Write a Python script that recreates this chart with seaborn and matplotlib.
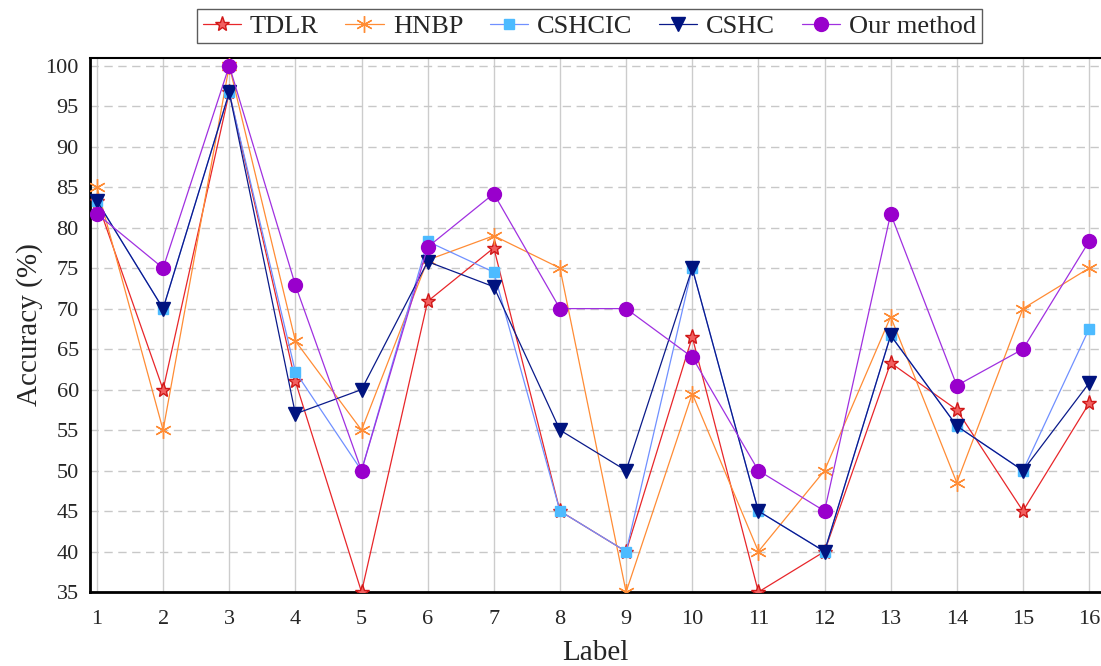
import numpy as np
import pandas as pd
import matplotlib
matplotlib.use('Agg')
import matplotlib.pyplot as plt
import seaborn as sns
from matplotlib.ticker import MultipleLocator

labels = list(range(1, 17))

tdlr = [83.3, 60, 96.7, 61, 35, 70.9, 77.5, 45, 40, 66.5, 35, 40, 63.3, 57.5, 45, 58.3]
hnbp = [85, 55, 100, 66, 55, 76, 79, 75, 35, 59.5, 40, 50, 69, 48.5, 70, 75]
cshcic = [83.3, 70, 96.7, 62.2, 50, 78.3, 74.5, 45, 40, 75, 45, 40, 66.7, 55.5, 50, 67.5]
cshc = [83.3, 70, 96.7, 57, 60, 75.8, 72.7, 55, 50, 75, 45, 40, 66.7, 55.5, 50, 60.8]
ours = [81.7, 75, 100, 72.9, 50, 77.6, 84.2, 70, 70, 64, 50, 45, 81.7, 60.5, 65, 78.3]

names = ['TDLR', 'HNBP', 'CSHCIC', 'CSHC', 'Our method']
series = [tdlr, hnbp, cshcic, cshc, ours]

df = pd.DataFrame({'Label': labels * len(names),
                   'Accuracy': sum(series, []),
                   'Method': np.repeat(names, len(labels))})

sns.set_style('white')
plt.rcParams['font.family'] = ['Liberation Serif', 'DejaVu Serif']

# line colour, marker, marker face, marker edge, marker size
styles = {
    'TDLR': ('#E8262A', '*', '#F26060', '#D01818', 11),
    'HNBP': ('#FF8C35', (6, 2, 0), '#FF8C35', '#FF8C35', 12),
    'CSHCIC': ('#7090FF', 's', '#4DBBFF', '#4DBBFF', 7.5),
    'CSHC': ('#0A1A8A', 'v', '#00137F', '#00137F', 10),
    'Our method': ('#A030E0', 'o', '#9900CC', '#9900CC', 10),
}

fig = plt.figure(figsize=(11.01, 6.66), dpi=100)
ax = fig.add_axes([0.0817, 0.1111, 0.9183, 0.8018])

for name in names:
    c, m, fc, ec, ms = styles[name]
    sns.lineplot(data=df[df['Method'] == name], x='Label', y='Accuracy', ax=ax,
                 color=c, lw=0.9, marker=m, markersize=ms,
                 markerfacecolor=fc, markeredgecolor=ec, markeredgewidth=1.0,
                 label=name, zorder=3)

ax.set_xlim(0.894, 16.18)
ax.set_ylim(35, 100.95)
ax.xaxis.set_major_locator(MultipleLocator(1))
ax.xaxis.set_minor_locator(MultipleLocator(0.5))
ax.yaxis.set_major_locator(MultipleLocator(5))
ax.yaxis.set_minor_locator(MultipleLocator(2.5))

ax.grid(axis='x', which='major', color='#CCCCCC', lw=1.0, ls='-')
ax.grid(axis='y', which='major', color='#C8C8C8', lw=1.0, ls=(0, (6, 4)))
ax.set_axisbelow(True)

ax.tick_params(which='major', direction='in', length=8, width=1.5,
               labelsize=16, pad=8, color='black')
ax.tick_params(axis='x', which='major', pad=13)
ax.tick_params(which='minor', direction='in', length=4, width=1.5, color='black')

for s in ['left', 'bottom']:
    ax.spines[s].set_linewidth(2.0)
ax.spines['top'].set_linewidth(1.5)
ax.spines['right'].set_visible(False)
for s in ax.spines.values():
    s.set_color('black')

ax.set_xlabel('Label', fontsize=21, labelpad=8)
ax.set_ylabel('Accuracy (%)', fontsize=21, labelpad=2)

leg = ax.legend(loc='lower center', bbox_to_anchor=(0.494, 1.028),
                ncol=5, frameon=True, fancybox=False, fontsize=19,
                handlelength=1.45, handletextpad=0.35, columnspacing=1.0,
                borderpad=0.2, borderaxespad=0)
leg.get_frame().set_edgecolor('#333333')
leg.get_frame().set_linewidth(1.0)

fig.savefig('out.png', dpi=100)
